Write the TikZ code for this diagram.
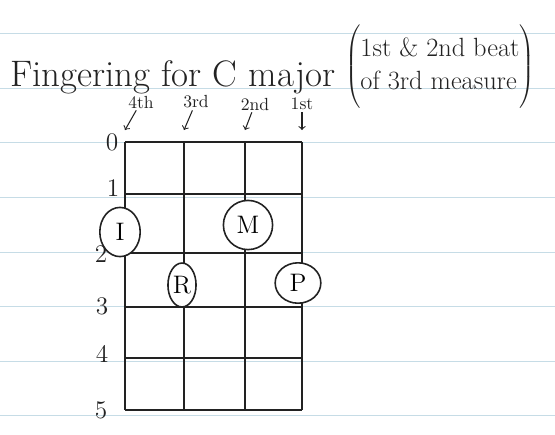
\documentclass[tikz,border=0pt]{standalone}
\usetikzlibrary{shapes.geometric}
\definecolor{ruleblue}{HTML}{C6DCE6}
\definecolor{pencil}{HTML}{222222}

\begin{document}
\begin{tikzpicture}[x=0.02cm, y=-0.02cm,
    rule/.style={ruleblue, line width=0.5pt},
    gridline/.style={pencil, line width=1.1pt},
    finger/.style={draw=pencil, ellipse, line width=0.9pt, inner sep=0pt, font=\Large},
    fretnum/.style={text=pencil, font=\Large, inner sep=1pt},
    stringname/.style={text=pencil, font=\normalsize, inner sep=1pt},
    pointer/.style={->, pencil, line width=0.6pt}]
    \useasboundingbox (0, 0) rectangle (555, 434);
    \foreach \y in {33, 88, 142, 197, 252, 306, 361, 415} {
      \draw[rule] (0, \y) -- (555, \y);
      }
    \foreach \y in {142, 194, 253, 307, 358, 410} {
      \draw[gridline] (125, \y) -- (302, \y);
      }
    \foreach \x [count=\i] in {125, 184, 245, 302} {
      \draw[gridline] (\x, 142) -- (\x, 410);
      \coordinate (top\i) at (\x, 130);
      }
    \foreach \n/\x/\y in {0/112/142, 1/113/188, 2/101/254, 3/102/306, 4/102/354, 5/101/410} {
      \node[fretnum] (fret\n) at (\x, \y) {\n};
      }
    \node[text=pencil, font=\fontsize{21}{25}\selectfont, anchor=base west] (title) at (4, 86) {Fingering for C major};
    \node[text=pencil, font=\fontsize{15}{19}\selectfont] (remark) at (440, 67)
      {$\left(\rule[-21pt]{0pt}{48pt}\mbox{\begin{tabular}{@{}l@{}}1st \& 2nd beat\\of 3rd measure\end{tabular}}\right)$};
    \node[stringname] (str4) at (141, 102) {4th};
    \node[stringname] (str3) at (196, 102) {3rd};
    \node[stringname] (str2) at (255, 104) {2nd};
    \node[stringname] (str1) at (302, 104) {1st};
    \draw[pointer] (str4) -- (top1);
    \draw[pointer] (str3) -- (top2);
    \draw[pointer] (str2) -- (top3);
    \draw[pointer] (str1) -- (top4);
    \node[finger, fill=white, minimum width=23pt, minimum height=28pt] (index) at (120, 232) {I};
    \node[finger, fill=white, minimum width=28pt, minimum height=28pt] (middle) at (248, 225) {M};
    \node[finger, fill=white, minimum width=16pt, minimum height=25pt] (ring) at (182, 285) {R};
    \node[finger, fill=white, minimum width=26pt, minimum height=23pt] (pinky) at (298, 283) {P};
  \end{tikzpicture}
\end{document}
